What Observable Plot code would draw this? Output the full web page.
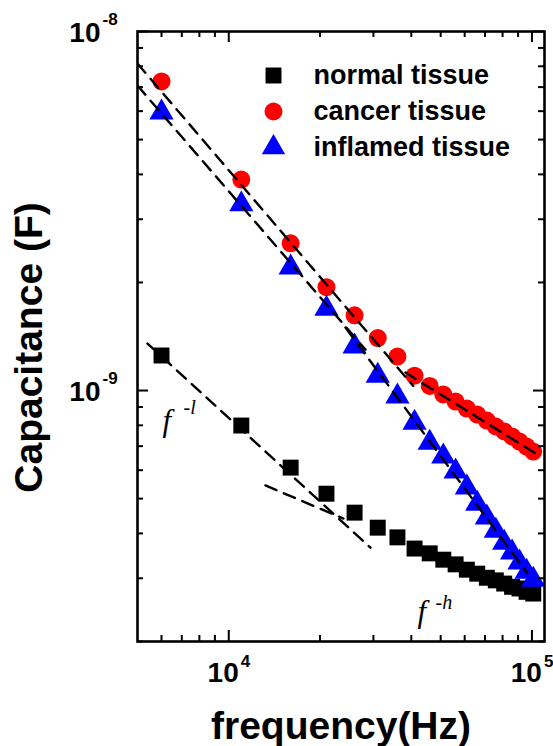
<!DOCTYPE html>
<html>
<head>
<meta charset="utf-8">
<script src="https://cdn.jsdelivr.net/npm/d3@7"></script>
<script src="https://cdn.jsdelivr.net/npm/@observablehq/plot@0.6"></script>
<style>
  html, body { margin: 0; padding: 0; background: #fff; }
  #chart svg { display: block; }
</style>
</head>
<body>
<div id="chart"></div>
<script>
// ---------- data ----------
const frequency = [6000, 11000, 16000, 21000, 26000, 31000, 36000, 41000, 46000, 51000,
                   56000, 61000, 66000, 71000, 76000, 81000, 86000, 91000, 96000, 101000];
const normalTissue = [1.252e-9, 7.99e-10, 6.10e-10, 5.16e-10, 4.57e-10, 4.15e-10, 3.90e-10, 3.63e-10, 3.52e-10,
                      3.38e-10, 3.28e-10, 3.17e-10, 3.09e-10, 3.01e-10, 2.96e-10, 2.90e-10, 2.84e-10, 2.81e-10,
                      2.75e-10, 2.72e-10];
const cancerTissue = [7.26e-9, 3.87e-9, 2.57e-9, 1.94e-9, 1.62e-9, 1.40e-9, 1.243e-9, 1.10e-9, 1.03e-9,
                      9.75e-10, 9.32e-10, 8.91e-10, 8.57e-10, 8.25e-10, 7.94e-10, 7.69e-10, 7.45e-10, 7.21e-10,
                      6.98e-10, 6.76e-10];
const inflamedTissue = [5.95e-9, 3.30e-9, 2.20e-9, 1.69e-9, 1.326e-9, 1.10e-9, 9.62e-10, 8.14e-10, 7.16e-10,
                        6.55e-10, 5.95e-10, 5.37e-10, 4.84e-10, 4.43e-10, 4.07e-10, 3.77e-10, 3.54e-10, 3.32e-10,
                        3.13e-10, 2.97e-10];

// dashed power-law guide lines: [frequency, capacitance] end points
const fitCancerLow = [[5000, 8.14e-9], [40600, 1.03e-9]];
const fitCancerHigh = [[38270, 1.122e-9], [106700, 6.55e-10]];
const fitInflamedLow = [[5000, 7.07e-9], [28240, 1.30e-9]];
const fitInflamedHigh = [[24260, 1.498e-9], [96600, 3.10e-10]];
const fitNormalLow = [[5394, 1.352e-9], [29330, 3.65e-10]];
const fitNormalHigh = [[13210, 5.44e-10], [23890, 4.40e-10]];

const legendLabels = ["normal tissue", "cancer tissue", "inflamed tissue"];
const xMajorTicks = [1e4, 1e5];
const xMinorTicks = [6000, 7000, 8000, 9000, 20000, 30000, 40000, 50000, 60000, 70000, 80000, 90000];
const yMajorTicks = [1e-9, 1e-8];
const yMinorTicks = [2e-10, 3e-10, 4e-10, 5e-10, 6e-10, 7e-10, 8e-10, 9e-10,
                     2e-9, 3e-9, 4e-9, 5e-9, 6e-9, 7e-9, 8e-9, 9e-9];

// ---------- layout ----------
const W = 553, H = 746;
const M = {top: 31, right: 9, bottom: 105, left: 137};
const innerW = W - M.left - M.right;
const innerH = H - M.top - M.bottom;
const sans = "'Liberation Sans', Arial, sans-serif";
const serif = "'Liberation Serif', 'Times New Roman', serif";
const majorLen = 11, minorLen = 6;

const rows = frequency.map((f, i) => ({
  f, normal: normalTissue[i], cancer: cancerTissue[i], inflamed: inflamedTissue[i]
}));

const fits = [fitCancerLow, fitCancerHigh, fitInflamedLow, fitInflamedHigh, fitNormalLow, fitNormalHigh];
const legendStyle = [
  {symbol: "square", fill: "#000000", r: 9},
  {symbol: "circle", fill: "#ff0000", r: 9},
  {symbol: "triangle", fill: "#0000ff", r: 8.7}
];
const legendSymbolDy = [44, 80, 116];
const legendTextDy = [52, 88, 124];

const tickRule = (vals, len, side) => {
  const common = {stroke: "black", strokeWidth: 2};
  if (side === "bottom") return Plot.ruleX(vals, {x: d => d, insetTop: innerH - len, ...common});
  if (side === "top") return Plot.ruleX(vals, {x: d => d, insetBottom: innerH - len, ...common});
  if (side === "left") return Plot.ruleY(vals, {y: d => d, insetRight: innerW - len, ...common});
  return Plot.ruleY(vals, {y: d => d, insetLeft: innerW - len, ...common});
};

const marks = [
  Plot.dot(rows, {x: "f", y: "normal", symbol: "square", r: 9, fill: "#000000", stroke: "none"}),
  Plot.dot(rows, {x: "f", y: "cancer", symbol: "circle", r: 9, fill: "#ff0000", stroke: "none"}),
  Plot.dot(rows, {x: "f", y: "inflamed", symbol: "triangle", r: 9, fill: "#0000ff", stroke: "none"}),
  ...fits.map(seg => Plot.line(seg, {x: d => d[0], y: d => d[1], stroke: "black",
                                     strokeWidth: 2.4, strokeDasharray: "12,8", clip: true})),
  // ticks on all four sides, pointing inward
  ...["bottom", "top"].flatMap(s => [tickRule(xMinorTicks, minorLen, s), tickRule(xMajorTicks, majorLen, s)]),
  ...["left", "right"].flatMap(s => [tickRule(yMinorTicks, minorLen, s), tickRule(yMajorTicks, majorLen, s)]),
  Plot.frame({stroke: "black", strokeWidth: 2.6}),
  // x tick labels 10^n
  Plot.text(xMajorTicks, {x: d => d, frameAnchor: "bottom", text: () => "10", textAnchor: "end",
    lineAnchor: "middle", dx: 10, dy: 31.5, fontSize: 28, fontWeight: "bold", fontFamily: sans, fill: "black"}),
  Plot.text(xMajorTicks, {x: d => d, frameAnchor: "bottom", text: d => String(Math.round(Math.log10(d))),
    textAnchor: "start", lineAnchor: "middle", dx: 12, dy: 20, fontSize: 17, fontWeight: "bold",
    fontFamily: sans, fill: "black"}),
  // y tick labels 10^n
  Plot.text(yMajorTicks, {y: d => d, frameAnchor: "left", text: () => "10", textAnchor: "end",
    lineAnchor: "middle", dx: -37, dy: 1.5, fontSize: 28, fontWeight: "bold", fontFamily: sans, fill: "black"}),
  Plot.text(yMajorTicks, {y: d => d, frameAnchor: "left", text: d => String(Math.round(Math.log10(d))),
    textAnchor: "start", lineAnchor: "middle", dx: -35, dy: -12, fontSize: 17, fontWeight: "bold",
    fontFamily: sans, fill: "black"}),
  // axis titles
  Plot.text(["frequency(Hz)"], {frameAnchor: "bottom", text: d => d, textAnchor: "middle",
    lineAnchor: "middle", dy: 85, fontSize: 39, fontWeight: "bold", fontFamily: sans, fill: "black"}),
  Plot.text(["Capacitance (F)"], {frameAnchor: "left", text: d => d, rotate: -90, textAnchor: "middle",
    lineAnchor: "middle", dx: -108, dy: 11, fontSize: 39, fontWeight: "bold", fontFamily: sans, fill: "black"}),
  // power-law annotations
  Plot.text(["f"], {frameAnchor: "top-left", text: d => d, textAnchor: "start", lineAnchor: "bottom",
    dx: 25, dy: 399, fontSize: 31, fontStyle: "italic", fontFamily: serif, fill: "black"}),
  Plot.text(["-l"], {frameAnchor: "top-left", text: d => d, textAnchor: "start", lineAnchor: "bottom",
    dx: 46, dy: 382, fontSize: 20, fontStyle: "italic", fontFamily: serif, fill: "black"}),
  Plot.text(["f"], {frameAnchor: "top-left", text: d => d, textAnchor: "start", lineAnchor: "bottom",
    dx: 280, dy: 590, fontSize: 31, fontStyle: "italic", fontFamily: serif, fill: "black"}),
  Plot.text(["-h"], {frameAnchor: "top-left", text: d => d, textAnchor: "start", lineAnchor: "bottom",
    dx: 298, dy: 577, fontSize: 20, fontStyle: "italic", fontFamily: serif, fill: "black"}),
  // legend
  ...legendLabels.flatMap((label, i) => [
    Plot.dot([label], {frameAnchor: "top-left", dx: 136, dy: legendSymbolDy[i],
      symbol: legendStyle[i].symbol, r: legendStyle[i].r, fill: legendStyle[i].fill, stroke: "none"}),
    Plot.text([label], {frameAnchor: "top-left", text: d => d, textAnchor: "start", lineAnchor: "bottom",
      dx: 176, dy: legendTextDy[i], fontSize: 27, fontWeight: "bold", fontFamily: sans, fill: "black"})
  ])
];

const chart = Plot.plot({
  width: W,
  height: H,
  marginTop: M.top,
  marginRight: M.right,
  marginBottom: M.bottom,
  marginLeft: M.left,
  style: {background: "white", overflow: "visible"},
  x: {type: "log", domain: [5000, 110000], axis: null},
  y: {type: "log", domain: [2e-10, 1e-8], axis: null},
  marks
});
document.getElementById("chart").appendChild(chart);
</script>
</body>
</html>
